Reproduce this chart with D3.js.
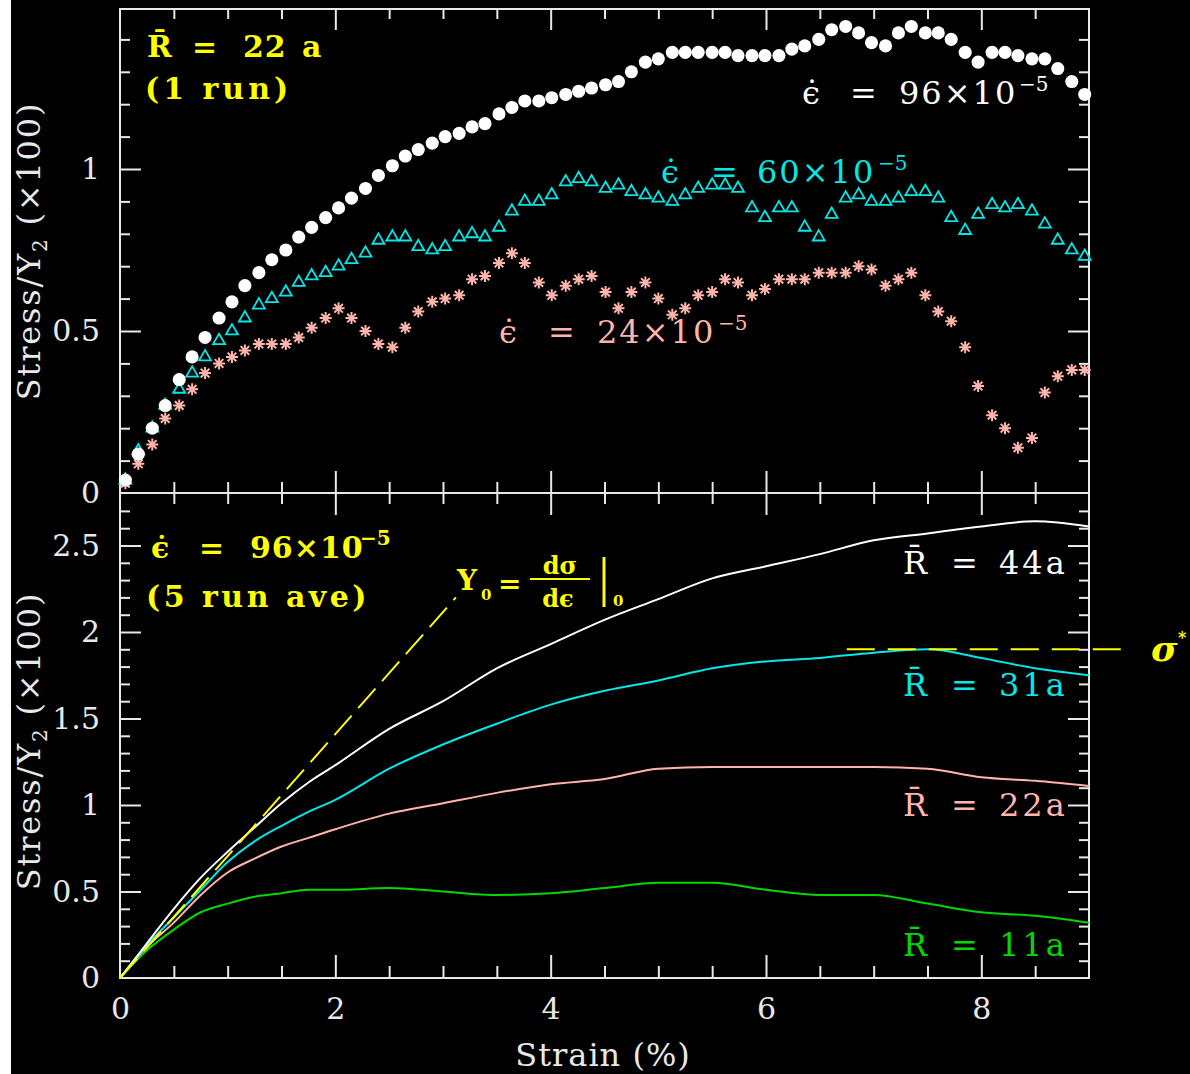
<!DOCTYPE html>
<html><head><meta charset="utf-8">
<script src="https://cdn.jsdelivr.net/npm/d3@7"></script>
<style>
html,body{margin:0;padding:0;background:#fff;}
svg{display:block;}
</style></head><body>
<svg id="chart" width="1190" height="1074"></svg>
<script>
// ---------- DATA ----------
// Top panel: single run, R = 22a, three strain rates (strain %, stress/Y2 x100)
const strainTop = [0.05,0.17,0.30,0.42,0.55,0.67,0.79,0.92,1.04,1.16,1.29,1.41,1.54,1.66,1.78,1.91,2.03,2.15,2.28,2.40,
  2.53,2.65,2.77,2.90,3.02,3.15,3.27,3.39,3.52,3.64,3.76,3.89,4.01,4.14,4.26,4.38,4.51,4.63,4.75,4.88,
  5.00,5.13,5.25,5.37,5.50,5.62,5.74,5.87,5.99,6.12,6.24,6.36,6.49,6.61,6.74,6.86,6.98,7.11,7.23,7.35,
  7.48,7.60,7.72,7.85,7.97,8.10,8.22,8.34,8.47,8.59,8.71,8.84,8.96];
const stressRate96 = [0.04,0.12,0.20,0.27,0.35,0.42,0.48,0.54,0.59,0.64,
  0.68,0.72,0.75,0.79,0.82,0.85,0.88,0.91,0.94,0.98,
  1.01,1.04,1.06,1.08,1.10,1.11,1.13,1.14,1.17,1.19,
  1.21,1.21,1.22,1.23,1.24,1.25,1.26,1.27,1.30,1.33,
  1.34,1.36,1.36,1.36,1.36,1.36,1.35,1.35,1.35,1.35,
  1.37,1.38,1.40,1.43,1.44,1.42,1.39,1.38,1.42,1.44,
  1.42,1.42,1.40,1.36,1.33,1.36,1.36,1.35,1.34,1.34,
  1.31,1.27,1.23];
const stressRate60 = [0.04,0.13,0.20,0.27,0.32,0.37,0.42,0.47,0.50,0.54,
  0.58,0.60,0.62,0.65,0.67,0.68,0.70,0.72,0.74,0.78,
  0.79,0.79,0.76,0.75,0.76,0.79,0.80,0.79,0.82,0.87,
  0.90,0.90,0.92,0.96,0.97,0.96,0.94,0.95,0.93,0.92,
  0.91,0.90,0.92,0.94,0.95,0.95,0.94,0.88,0.85,0.88,
  0.88,0.82,0.79,0.86,0.91,0.92,0.90,0.90,0.91,0.93,
  0.93,0.91,0.85,0.81,0.86,0.89,0.88,0.89,0.87,0.83,
  0.78,0.75,0.73];
const stressRate24 = [0.03,0.09,0.15,0.23,0.27,0.32,0.37,0.40,0.42,0.44,
  0.46,0.46,0.46,0.48,0.51,0.54,0.57,0.54,0.50,0.46,
  0.45,0.51,0.56,0.59,0.60,0.61,0.66,0.67,0.71,0.74,
  0.71,0.65,0.61,0.64,0.66,0.67,0.62,0.57,0.62,0.65,
  0.60,0.55,0.57,0.61,0.62,0.66,0.65,0.61,0.63,0.66,
  0.66,0.66,0.68,0.68,0.68,0.70,0.69,0.64,0.66,0.68,
  0.61,0.56,0.53,0.45,0.33,0.24,0.20,0.14,0.17,0.31,
  0.36,0.38,0.38];

// Bottom panel: 5-run averages at rate 96e-5, four grain sizes
const strainBottom = [0,0.25,0.5,0.75,1,1.25,1.5,1.75,2,2.5,3,3.5,4,4.5,5,5.5,6,6.5,7,7.5,8,8.5,9];
const stressR44 = [0,0.20,0.40,0.58,0.73,0.87,1.01,1.13,1.23,1.44,1.60,1.79,1.93,2.07,2.19,2.31,2.38,2.45,2.53,2.57,2.61,2.64,2.61];
const stressR31 = [0,0.19,0.35,0.51,0.67,0.79,0.88,0.96,1.03,1.21,1.35,1.47,1.58,1.66,1.72,1.79,1.83,1.85,1.88,1.90,1.85,1.79,1.75];
const stressR22 = [0,0.18,0.32,0.48,0.61,0.69,0.76,0.81,0.86,0.95,1.01,1.07,1.12,1.15,1.21,1.22,1.22,1.22,1.22,1.21,1.16,1.14,1.11];
const stressR11 = [0,0.16,0.28,0.38,0.43,0.47,0.49,0.51,0.51,0.52,0.50,0.48,0.49,0.52,0.55,0.55,0.51,0.48,0.48,0.43,0.38,0.36,0.32];

// Annotation lines
const tangentStrain = [0, 3.12];
const tangentStress = [0, 2.20];
const sigmaStarStrain = [6.75, 9.36];
const sigmaStarStress = 1.90;

// Tick labels
const xTickValues = [0,2,4,6,8];
const xTickLabels = ["0","2","4","6","8"];
const yTopTickValues = [0,0.5,1];
const yTopTickLabels = ["0","0.5","1"];
const yBotTickValues = [0,0.5,1,1.5,2,2.5];
const yBotTickLabels = ["0","0.5","1","1.5","2","2.5"];

// ---------- LAYOUT ----------
const FONT = "DejaVu Serif";
const AX = "#e8e8e8";
const C_WHITE = "#ffffff", C_CYAN = "#00e8e8", C_PINK = "#ffb4ac", C_GREEN = "#00d800", C_YEL = "#ffff00";
const L = 120, R = 1089, T = 9, MID = 493, B = 978;

const svg = d3.select("#chart");
svg.append("rect").attr("x", 11).attr("y", 0).attr("width", 1179).attr("height", 1074).attr("fill", "#000");

const x = d3.scaleLinear().domain([0, 9]).range([L, R]);
const yT = d3.scaleLinear().domain([0, 1.5]).range([MID, MID - 486]);
const yB = d3.scaleLinear().domain([0, 2.8]).range([B, B - 484.4]);

function styleAxis(g) {
  g.select(".domain").remove();
  g.selectAll("line").attr("stroke", AX).attr("stroke-width", 2);
  g.selectAll("text").attr("fill", AX).attr("font-family", FONT).attr("font-size", 30);
  return g;
}
function addAxis(gen, tx, ty) {
  return styleAxis(svg.append("g").attr("transform", `translate(${tx},${ty})`).call(gen));
}
const rng = (a, b, s) => d3.range(Math.round((b - a) / s) + 1).map(i => +(a + i * s).toFixed(3));

// minor / major tick values
const xMinor = rng(0.5, 8.5, 0.5).filter(v => v % 2 !== 0);
const xMajor = [2, 4, 6, 8];
const yTMinor = rng(0.1, 1.4, 0.1).filter(v => Math.abs(v * 2 - Math.round(v * 2)) > 1e-6);
const yTMajor = [0.5, 1];
const yBMinor = rng(0.1, 2.7, 0.1).filter(v => Math.abs(v * 2 - Math.round(v * 2)) > 1e-6);
const yBMajor = [0.5, 1, 1.5, 2, 2.5];

// Top panel ticks
addAxis(d3.axisTop(x).tickValues(xMinor).tickSize(-10).tickFormat(""), 0, T);
addAxis(d3.axisTop(x).tickValues(xMajor).tickSize(-21).tickFormat(""), 0, T);
addAxis(d3.axisBottom(x).tickValues(xMinor).tickSize(-11).tickFormat(""), 0, MID);
addAxis(d3.axisBottom(x).tickValues(xMajor).tickSize(-22).tickFormat(""), 0, MID);
addAxis(d3.axisLeft(yT).tickValues(yTMinor).tickSize(-10).tickFormat(""), L, 0);
addAxis(d3.axisLeft(yT).tickValues(yTMajor).tickSize(-21).tickFormat(""), L, 0);
addAxis(d3.axisRight(yT).tickValues(yTMinor).tickSize(-10).tickFormat(""), R, 0);
addAxis(d3.axisRight(yT).tickValues(yTMajor).tickSize(-21).tickFormat(""), R, 0);
addAxis(d3.axisLeft(yT).tickValues(yTopTickValues).tickSize(0).tickPadding(20)
  .tickFormat((d, i) => yTopTickLabels[i]), L, 0);

// Bottom panel ticks
addAxis(d3.axisTop(x).tickValues(xMinor).tickSize(-11).tickFormat(""), 0, MID);
addAxis(d3.axisTop(x).tickValues(xMajor).tickSize(-22).tickFormat(""), 0, MID);
addAxis(d3.axisBottom(x).tickValues(xMinor).tickSize(-12).tickFormat(""), 0, B);
addAxis(d3.axisBottom(x).tickValues(xMajor).tickSize(-23).tickFormat(""), 0, B);
addAxis(d3.axisLeft(yB).tickValues(yBMinor).tickSize(-10).tickFormat(""), L, 0);
addAxis(d3.axisLeft(yB).tickValues(yBMajor).tickSize(-21).tickFormat(""), L, 0);
addAxis(d3.axisRight(yB).tickValues(yBMinor).tickSize(-10).tickFormat(""), R, 0);
addAxis(d3.axisRight(yB).tickValues(yBMajor).tickSize(-21).tickFormat(""), R, 0);
addAxis(d3.axisLeft(yB).tickValues(yBotTickValues).tickSize(0).tickPadding(20)
  .tickFormat((d, i) => yBotTickLabels[i]), L, 0);
addAxis(d3.axisBottom(x).tickValues(xTickValues).tickSize(0).tickPadding(20)
  .tickFormat((d, i) => xTickLabels[i]), 0, B);

// Frame
svg.append("rect").attr("x", L).attr("y", T).attr("width", R - L).attr("height", B - T)
  .attr("fill", "none").attr("stroke", AX).attr("stroke-width", 2);
svg.append("line").attr("x1", L).attr("x2", R).attr("y1", MID).attr("y2", MID)
  .attr("stroke", AX).attr("stroke-width", 2);

// ---------- TOP PANEL MARKERS ----------
const gTop = svg.append("g");
const pink = strainTop.map((s, i) => [s, stressRate24[i]]);
const cyan = strainTop.map((s, i) => [s, stressRate60[i]]);
const white = strainTop.map((s, i) => [s, stressRate96[i]]);
const starPath = "M-6,0H6M0,-6V6M-4.3,-4.3L4.3,4.3M-4.3,4.3L4.3,-4.3";
gTop.selectAll(".pk").data(pink).join("path")
  .attr("d", starPath)
  .attr("transform", d => `translate(${x(d[0])},${yT(d[1])})`)
  .attr("stroke", C_PINK).attr("stroke-width", 2).attr("fill", "none");
const tri = d3.symbol(d3.symbolTriangle, 62);
gTop.selectAll(".cy").data(cyan).join("path")
  .attr("d", tri)
  .attr("transform", d => `translate(${x(d[0])},${yT(d[1])})`)
  .attr("stroke", C_CYAN).attr("stroke-width", 1.8).attr("fill", "none");
const circ = d3.symbol(d3.symbolCircle, 135);
gTop.selectAll(".wh").data(white).join("path")
  .attr("d", circ)
  .attr("transform", d => `translate(${x(d[0])},${yT(d[1])})`)
  .attr("fill", C_WHITE);

// ---------- BOTTOM PANEL LINES ----------
const line = d3.line().x(d => x(d[0])).y(d => yB(d[1])).curve(d3.curveMonotoneX);
const curves = [[stressR11, C_GREEN], [stressR22, C_PINK], [stressR31, C_CYAN], [stressR44, C_WHITE]];
curves.forEach(([vals, col]) => {
  svg.append("path").datum(strainBottom.map((s, i) => [s, vals[i]]))
    .attr("d", line).attr("fill", "none").attr("stroke", col).attr("stroke-width", 2);
});
// tangent (Y0)
svg.append("path").datum(tangentStrain.map((s, i) => [s, tangentStress[i]]))
  .attr("d", d3.line().x(d => x(d[0])).y(d => yB(d[1])))
  .attr("stroke", C_YEL).attr("stroke-width", 2).attr("stroke-dasharray", "26,10").attr("fill", "none");
// sigma* level
svg.append("line").attr("x1", x(sigmaStarStrain[0])).attr("x2", x(sigmaStarStrain[1]))
  .attr("y1", yB(sigmaStarStress)).attr("y2", yB(sigmaStarStress))
  .attr("stroke", C_YEL).attr("stroke-width", 2).attr("stroke-dasharray", "28,13");

// ---------- TEXT ----------
function txt(xp, yp, s, col, size, opts = {}) {
  return svg.append("text").attr("x", xp).attr("y", yp).attr("fill", col)
    .attr("font-family", FONT).attr("font-size", size)
    .attr("font-weight", opts.weight || "normal").attr("font-style", opts.style || "normal")
    .attr("letter-spacing", opts.ls || 0).attr("text-anchor", opts.anchor || "start")
    .text(s);
}
const EPS = "\u03F5\u0307";
const RBAR = "R\u0304";
function rateLabel(y0, xs, val, col, weight, size, ls) {
  txt(xs[0], y0, EPS, col, size, { weight });
  txt(xs[1], y0, "=", col, size, { weight });
  txt(xs[2], y0, val + "\u00D710", col, size, { weight, ls });
  txt(xs[3], y0 - 13, "\u22125", col, 20, { weight });
}
function rLabel(y0, val, col) {
  txt(903, y0, RBAR, col, 32);
  txt(951, y0, "=", col, 32);
  txt(999, y0, val, col, 32, { ls: 3 });
}

// Top panel
txt(147, 57, RBAR, C_YEL, 30, { weight: "bold" });
txt(192, 57, "=", C_YEL, 30, { weight: "bold" });
txt(243, 57, "22", C_YEL, 30, { weight: "bold", ls: 1 });
txt(302, 57, "a", C_YEL, 30, { weight: "bold" });
txt(145, 99, "(1 run)", C_YEL, 30, { weight: "bold", ls: 4 });
rateLabel(104, [802, 850, 899, 1019], "96", C_WHITE, "normal", 32, 2);
rateLabel(183, [661, 711, 757, 878], "60", C_CYAN, "normal", 32, 2);
rateLabel(343, [499, 548, 597, 718], "24", C_PINK, "normal", 32, 2);

// Bottom panel
rateLabel(558, [151, 199, 250, 360], "96", C_YEL, "bold", 30, 1);
txt(146, 607, "(5 run ave)", C_YEL, 30, { weight: "bold", ls: 3.5 });
rLabel(574, "44a", C_WHITE);
rLabel(696, "31a", C_CYAN);
rLabel(816, "22a", C_PINK);
rLabel(956, "11a", C_GREEN);

// Y0 = dσ/dε |0
txt(457, 590, "Y", C_YEL, 28, { weight: "bold" });
txt(481, 600, "0", C_YEL, 15, { weight: "bold" });
txt(498, 593, "=", C_YEL, 28, { weight: "bold" });
txt(560, 574, "d\u03C3", C_YEL, 24, { weight: "bold", anchor: "middle" });
txt(558, 607, "d\u03F5", C_YEL, 24, { weight: "bold", anchor: "middle" });
svg.append("line").attr("x1", 530).attr("x2", 590).attr("y1", 579).attr("y2", 579)
  .attr("stroke", C_YEL).attr("stroke-width", 2);
svg.append("line").attr("x1", 604).attr("x2", 604).attr("y1", 557).attr("y2", 607)
  .attr("stroke", C_YEL).attr("stroke-width", 3);
txt(613, 606, "0", C_YEL, 15, { weight: "bold" });

// sigma*
txt(1151, 661, "\u03C3", C_YEL, 36, { weight: "bold", style: "italic" });
txt(1178, 643, "*", C_YEL, 16, { weight: "bold" });

// Axis titles
function yTitle(cx, cy) {
  const t = svg.append("text").attr("transform", `translate(${cx},${cy}) rotate(-90)`)
    .attr("text-anchor", "middle").attr("fill", AX).attr("font-family", FONT).attr("font-size", 32)
    .attr("letter-spacing", 1.8);
  t.append("tspan").text("Stress/Y");
  t.append("tspan").attr("font-size", 20).attr("dy", 7).text("2");
  t.append("tspan").attr("dy", -7).text(" (\u00D7100)");
}
yTitle(40, 251);
yTitle(40, 741);
txt(603, 1066, "Strain (%)", AX, 32, { anchor: "middle", ls: 1 });
</script>
</body></html>
